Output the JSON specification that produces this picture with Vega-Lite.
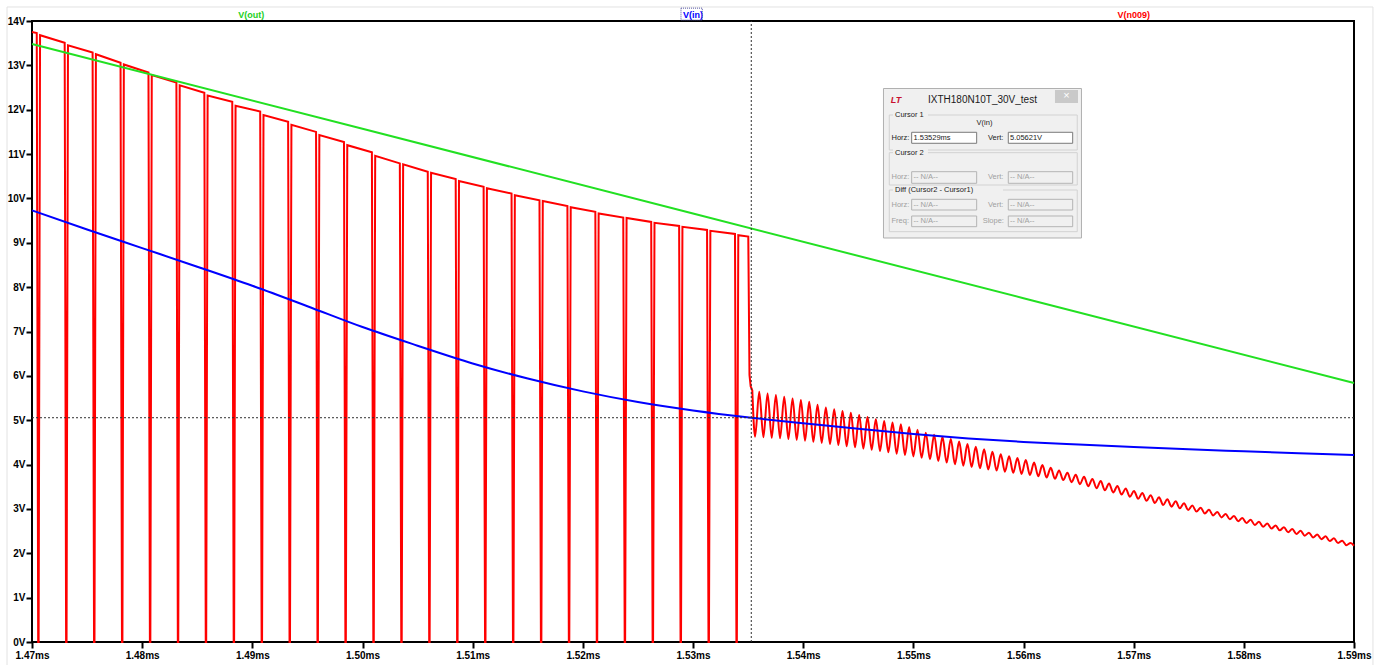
{
"$schema": "https://vega.github.io/schema/vega-lite/v6.json",
"width": 1322, "height": 621,
"autosize": {"type": "none"},
"padding": {"left": 32, "top": 21, "right": 33, "bottom": 23},
"background": "#ffffff",
"config": {"view": {"stroke": "#000000", "strokeWidth": 2}, "font": "Liberation Sans"},
"datasets": {
"borders": [
{"t": 1.467731, "v": 14.316, "t2": 1.467731, "v2": -0.52},
{"t": 1.467731, "v": 14.316, "t2": 1.591721, "v2": 14.316},
{"t": 1.591721, "v": 14.316, "t2": 1.591721, "v2": -0.52}
],
"red_sw": [
{"t": 1.47, "v": 13.75},
{"t": 1.470431, "v": 13.73}, {"t": 1.470561, "v": 0}, {"t": 1.470601, "v": 0}, {"t": 1.470731, "v": 13.68},
{"t": 1.472966, "v": 13.51}, {"t": 1.473096, "v": 0}, {"t": 1.473136, "v": 0}, {"t": 1.473266, "v": 13.45},
{"t": 1.475501, "v": 13.29}, {"t": 1.475631, "v": 0}, {"t": 1.475671, "v": 0}, {"t": 1.475801, "v": 13.25},
{"t": 1.478037, "v": 13.06}, {"t": 1.478167, "v": 0}, {"t": 1.478207, "v": 0}, {"t": 1.478337, "v": 13.02},
{"t": 1.480572, "v": 12.84}, {"t": 1.480702, "v": 0}, {"t": 1.480742, "v": 0}, {"t": 1.480872, "v": 12.78},
{"t": 1.483107, "v": 12.61}, {"t": 1.483237, "v": 0}, {"t": 1.483277, "v": 0}, {"t": 1.483407, "v": 12.55},
{"t": 1.485642, "v": 12.38}, {"t": 1.485772, "v": 0}, {"t": 1.485812, "v": 0}, {"t": 1.485942, "v": 12.32},
{"t": 1.488177, "v": 12.18}, {"t": 1.488307, "v": 0}, {"t": 1.488347, "v": 0}, {"t": 1.488477, "v": 12.09},
{"t": 1.490713, "v": 11.96}, {"t": 1.490843, "v": 0}, {"t": 1.490883, "v": 0}, {"t": 1.491013, "v": 11.88},
{"t": 1.493248, "v": 11.73}, {"t": 1.493378, "v": 0}, {"t": 1.493418, "v": 0}, {"t": 1.493548, "v": 11.66},
{"t": 1.495783, "v": 11.50}, {"t": 1.495913, "v": 0}, {"t": 1.495953, "v": 0}, {"t": 1.496083, "v": 11.43},
{"t": 1.498318, "v": 11.27}, {"t": 1.498448, "v": 0}, {"t": 1.498488, "v": 0}, {"t": 1.498618, "v": 11.20},
{"t": 1.500853, "v": 11.04}, {"t": 1.500983, "v": 0}, {"t": 1.501023, "v": 0}, {"t": 1.501153, "v": 10.96},
{"t": 1.503389, "v": 10.79}, {"t": 1.503519, "v": 0}, {"t": 1.503559, "v": 0}, {"t": 1.503689, "v": 10.77},
{"t": 1.505924, "v": 10.60}, {"t": 1.506054, "v": 0}, {"t": 1.506094, "v": 0}, {"t": 1.506224, "v": 10.58},
{"t": 1.508459, "v": 10.44}, {"t": 1.508589, "v": 0}, {"t": 1.508629, "v": 0}, {"t": 1.508759, "v": 10.39},
{"t": 1.510994, "v": 10.26}, {"t": 1.511124, "v": 0}, {"t": 1.511164, "v": 0}, {"t": 1.511294, "v": 10.23},
{"t": 1.513529, "v": 10.11}, {"t": 1.513659, "v": 0}, {"t": 1.513699, "v": 0}, {"t": 1.513829, "v": 10.07},
{"t": 1.516065, "v": 9.96}, {"t": 1.516195, "v": 0}, {"t": 1.516235, "v": 0}, {"t": 1.516365, "v": 9.94},
{"t": 1.518600, "v": 9.83}, {"t": 1.518730, "v": 0}, {"t": 1.518770, "v": 0}, {"t": 1.518900, "v": 9.80},
{"t": 1.521135, "v": 9.70}, {"t": 1.521265, "v": 0}, {"t": 1.521305, "v": 0}, {"t": 1.521435, "v": 9.66},
{"t": 1.523670, "v": 9.57}, {"t": 1.523800, "v": 0}, {"t": 1.523840, "v": 0}, {"t": 1.523970, "v": 9.56},
{"t": 1.526205, "v": 9.47}, {"t": 1.526335, "v": 0}, {"t": 1.526375, "v": 0}, {"t": 1.526505, "v": 9.45},
{"t": 1.528741, "v": 9.38}, {"t": 1.528871, "v": 0}, {"t": 1.528911, "v": 0}, {"t": 1.529041, "v": 9.36},
{"t": 1.531276, "v": 9.29}, {"t": 1.531406, "v": 0}, {"t": 1.531446, "v": 0}, {"t": 1.531576, "v": 9.27},
{"t": 1.533811, "v": 9.20}, {"t": 1.533941, "v": 0}, {"t": 1.533981, "v": 0}, {"t": 1.534111, "v": 9.17},
{"t": 1.535018, "v": 9.14}, {"t": 1.535127, "v": 6.02}, {"t": 1.535236, "v": 5.76}, {"t": 1.535381, "v": 5.68}
],
"red_osc": [
{"t": 1.535381, "v": 5.68},
{"t": 1.535635, "v": 4.628}, {"t": 1.536013, "v": 5.642},
{"t": 1.536391, "v": 4.616}, {"t": 1.536769, "v": 5.604},
{"t": 1.537147, "v": 4.604}, {"t": 1.537525, "v": 5.567},
{"t": 1.537903, "v": 4.592}, {"t": 1.538281, "v": 5.529},
{"t": 1.538659, "v": 4.574}, {"t": 1.539037, "v": 5.492},
{"t": 1.539415, "v": 4.556}, {"t": 1.539793, "v": 5.454},
{"t": 1.540171, "v": 4.538}, {"t": 1.540549, "v": 5.415},
{"t": 1.540927, "v": 4.513}, {"t": 1.541305, "v": 5.350},
{"t": 1.541683, "v": 4.489}, {"t": 1.542061, "v": 5.284},
{"t": 1.542439, "v": 4.464}, {"t": 1.542817, "v": 5.246},
{"t": 1.543195, "v": 4.439}, {"t": 1.543573, "v": 5.208},
{"t": 1.543951, "v": 4.414}, {"t": 1.544329, "v": 5.170},
{"t": 1.544707, "v": 4.389}, {"t": 1.545085, "v": 5.120},
{"t": 1.545463, "v": 4.361}, {"t": 1.545841, "v": 5.071},
{"t": 1.546219, "v": 4.334}, {"t": 1.546597, "v": 5.022},
{"t": 1.546975, "v": 4.306}, {"t": 1.547353, "v": 4.984},
{"t": 1.547731, "v": 4.276}, {"t": 1.548109, "v": 4.946},
{"t": 1.548487, "v": 4.246}, {"t": 1.548865, "v": 4.909},
{"t": 1.549243, "v": 4.216}, {"t": 1.549621, "v": 4.846},
{"t": 1.549999, "v": 4.184}, {"t": 1.550377, "v": 4.783},
{"t": 1.550755, "v": 4.151}, {"t": 1.551133, "v": 4.720},
{"t": 1.551511, "v": 4.119}, {"t": 1.551889, "v": 4.673},
{"t": 1.552267, "v": 4.081}, {"t": 1.552645, "v": 4.626},
{"t": 1.553023, "v": 4.044}, {"t": 1.553401, "v": 4.578},
{"t": 1.553779, "v": 4.006}, {"t": 1.554157, "v": 4.520},
{"t": 1.554535, "v": 3.976}, {"t": 1.554913, "v": 4.462},
{"t": 1.555291, "v": 3.946}, {"t": 1.555669, "v": 4.404},
{"t": 1.556047, "v": 3.916}, {"t": 1.556425, "v": 4.346},
{"t": 1.556803, "v": 3.890}, {"t": 1.557181, "v": 4.290},
{"t": 1.557559, "v": 3.865}, {"t": 1.557937, "v": 4.233},
{"t": 1.558315, "v": 3.839}, {"t": 1.558693, "v": 4.190},
{"t": 1.559071, "v": 3.814}, {"t": 1.559449, "v": 4.147},
{"t": 1.559827, "v": 3.790}, {"t": 1.560205, "v": 4.104},
{"t": 1.560583, "v": 3.765}, {"t": 1.560961, "v": 4.047},
{"t": 1.561339, "v": 3.737}, {"t": 1.561717, "v": 3.988},
{"t": 1.562095, "v": 3.708}, {"t": 1.562473, "v": 3.928},
{"t": 1.562851, "v": 3.680}, {"t": 1.563229, "v": 3.868},
{"t": 1.563607, "v": 3.650}, {"t": 1.563985, "v": 3.815},
{"t": 1.564363, "v": 3.604}, {"t": 1.564741, "v": 3.769},
{"t": 1.565119, "v": 3.559}, {"t": 1.565497, "v": 3.723},
{"t": 1.565875, "v": 3.513}, {"t": 1.566253, "v": 3.677},
{"t": 1.566631, "v": 3.467}, {"t": 1.567009, "v": 3.630},
{"t": 1.567387, "v": 3.419}, {"t": 1.567765, "v": 3.573},
{"t": 1.568143, "v": 3.372}, {"t": 1.568521, "v": 3.516},
{"t": 1.568899, "v": 3.324}, {"t": 1.569277, "v": 3.459},
{"t": 1.569655, "v": 3.276}, {"t": 1.570033, "v": 3.404},
{"t": 1.570411, "v": 3.229}, {"t": 1.570789, "v": 3.357},
{"t": 1.571167, "v": 3.182}, {"t": 1.571545, "v": 3.310},
{"t": 1.571923, "v": 3.135}, {"t": 1.572301, "v": 3.263},
{"t": 1.572679, "v": 3.088}, {"t": 1.573057, "v": 3.219},
{"t": 1.573435, "v": 3.051}, {"t": 1.573813, "v": 3.172},
{"t": 1.574191, "v": 3.013}, {"t": 1.574569, "v": 3.126},
{"t": 1.574947, "v": 2.976}, {"t": 1.575325, "v": 3.075},
{"t": 1.575703, "v": 2.940}, {"t": 1.576081, "v": 3.027},
{"t": 1.576459, "v": 2.896}, {"t": 1.576837, "v": 2.981},
{"t": 1.577215, "v": 2.853}, {"t": 1.577593, "v": 2.933},
{"t": 1.577971, "v": 2.809}, {"t": 1.578349, "v": 2.886},
{"t": 1.578727, "v": 2.766}, {"t": 1.579105, "v": 2.842},
{"t": 1.579483, "v": 2.724}, {"t": 1.579861, "v": 2.798},
{"t": 1.580239, "v": 2.682}, {"t": 1.580617, "v": 2.754},
{"t": 1.580995, "v": 2.640}, {"t": 1.581373, "v": 2.711},
{"t": 1.581751, "v": 2.598}, {"t": 1.582129, "v": 2.669},
{"t": 1.582507, "v": 2.558}, {"t": 1.582885, "v": 2.628},
{"t": 1.583263, "v": 2.517}, {"t": 1.583641, "v": 2.588},
{"t": 1.584019, "v": 2.477}, {"t": 1.584397, "v": 2.548},
{"t": 1.584775, "v": 2.437}, {"t": 1.585153, "v": 2.507},
{"t": 1.585531, "v": 2.397}, {"t": 1.585909, "v": 2.465},
{"t": 1.586287, "v": 2.357}, {"t": 1.586665, "v": 2.424},
{"t": 1.587043, "v": 2.317}, {"t": 1.587421, "v": 2.382},
{"t": 1.587799, "v": 2.277}, {"t": 1.588177, "v": 2.337},
{"t": 1.588555, "v": 2.230}, {"t": 1.588933, "v": 2.285},
{"t": 1.589311, "v": 2.183}, {"t": 1.589689, "v": 2.232},
{"t": 1.59, "v": 2.17}
],
"vout": [
{"t": 1.47, "v": 13.48}, {"t": 1.50, "v": 11.57}, {"t": 1.53, "v": 9.66}, {"t": 1.56, "v": 7.75}, {"t": 1.59, "v": 5.84}
],
"vin": [
{"t": 1.47, "v": 9.73}, {"t": 1.475, "v": 9.30}, {"t": 1.48, "v": 8.88}, {"t": 1.485, "v": 8.46},
{"t": 1.49, "v": 8.03}, {"t": 1.495, "v": 7.57}, {"t": 1.50, "v": 7.10}, {"t": 1.505, "v": 6.68},
{"t": 1.51, "v": 6.28}, {"t": 1.515, "v": 5.94}, {"t": 1.52, "v": 5.65}, {"t": 1.525, "v": 5.41},
{"t": 1.53, "v": 5.22}, {"t": 1.53529, "v": 5.056}, {"t": 1.54, "v": 4.93}, {"t": 1.545, "v": 4.805},
{"t": 1.55, "v": 4.69}, {"t": 1.555, "v": 4.59}, {"t": 1.56, "v": 4.51}, {"t": 1.565, "v": 4.45},
{"t": 1.57, "v": 4.395}, {"t": 1.575, "v": 4.345}, {"t": 1.58, "v": 4.30}, {"t": 1.585, "v": 4.255},
{"t": 1.59, "v": 4.215}
],
"cursor": [
{"t": 1.53529, "v": 0, "t2": 1.53529, "v2": 14},
{"t": 1.47, "v": 5.05621, "t2": 1.59, "v2": 5.05621}
],
"legend": [
{"t": 1.4899, "v": 14.135, "name": "V(out)"},
{"t": 1.5300, "v": 14.135, "name": "V(in)"},
{"t": 1.5700, "v": 14.135, "name": "V(n009)"}
],
"legendbox": [{"t": 1.528909, "t2": 1.530843, "v": 14.02, "v2": 14.29}],
"dlg_outer": [{"t": 1.54729, "t2": 1.565262, "v": 12.478, "v2": 9.108}],
"dlg_close": [{"t": 1.562858, "t2": 1.564946, "v": 12.444, "v2": 12.152}],
"dlg_frames": [
{"t": 1.547817, "t2": 1.56488, "v": 11.881, "v2": 11.092},
{"t": 1.547817, "t2": 1.56488, "v": 11.031, "v2": 10.303},
{"t": 1.547817, "t2": 1.56488, "v": 10.19, "v2": 9.25}
],
"dlg_labelbg": [
{"t": 1.548153, "t2": 1.551329, "v": 11.971, "v2": 11.791},
{"t": 1.548153, "t2": 1.551329, "v": 11.121, "v2": 10.941},
{"t": 1.548153, "t2": 1.558138, "v": 10.28, "v2": 10.1}
],
"dlg_white": [
{"t": 1.549849, "t2": 1.555749, "v": 11.491, "v2": 11.243},
{"t": 1.558619, "t2": 1.564464, "v": 11.491, "v2": 11.243}
],
"dlg_gray": [
{"t": 1.549849, "t2": 1.555749, "v": 10.603, "v2": 10.341},
{"t": 1.558619, "t2": 1.564464, "v": 10.603, "v2": 10.341},
{"t": 1.549849, "t2": 1.555749, "v": 9.98, "v2": 9.739},
{"t": 1.558619, "t2": 1.564464, "v": 9.98, "v2": 9.739},
{"t": 1.549849, "t2": 1.555749, "v": 9.604, "v2": 9.363},
{"t": 1.558619, "t2": 1.564464, "v": 9.604, "v2": 9.363}
],
"dlg_text": [
{"t": 1.548333, "v": 11.881, "label": "Cursor 1"},
{"t": 1.548333, "v": 11.031, "label": "Cursor 2"},
{"t": 1.548333, "v": 10.19, "label": "Diff (Cursor2 - Cursor1)"},
{"t": 1.555744, "v": 11.7, "label": "V(in)"},
{"t": 1.548016, "v": 11.362, "label": "Horz:"},
{"t": 1.550013, "v": 11.362, "label": "1.53529ms"},
{"t": 1.556776, "v": 11.362, "label": "Vert:"},
{"t": 1.558773, "v": 11.362, "label": "5.05621V"}
],
"dlg_graytext": [
{"t": 1.548016, "v": 10.472, "label": "Horz:"},
{"t": 1.550013, "v": 10.472, "label": "-- N/A--"},
{"t": 1.556776, "v": 10.472, "label": "Vert:"},
{"t": 1.558773, "v": 10.472, "label": "-- N/A--"},
{"t": 1.548016, "v": 9.86, "label": "Horz:"},
{"t": 1.550013, "v": 9.86, "label": "-- N/A--"},
{"t": 1.556776, "v": 9.86, "label": "Vert:"},
{"t": 1.558773, "v": 9.86, "label": "-- N/A--"},
{"t": 1.548016, "v": 9.484, "label": "Freq:"},
{"t": 1.550013, "v": 9.484, "label": "-- N/A--"},
{"t": 1.556295, "v": 9.484, "label": "Slope:"},
{"t": 1.558773, "v": 9.484, "label": "-- N/A--"}
],
"dlg_title": [{"t": 1.556276, "v": 12.219, "label": "IXTH180N10T_30V_test"}],
"dlg_logo": [{"t": 1.548424, "v": 12.219, "label": "LT"}],
"dlg_x": [{"t": 1.563902, "v": 12.298, "label": "×"}]
},
"encoding": {
"x": {"field": "t", "type": "quantitative",
 "scale": {"domain": [1.47, 1.59], "nice": false, "zero": false},
 "axis": {"values": [1.47, 1.48, 1.49, 1.5, 1.51, 1.52, 1.53, 1.54, 1.55, 1.56, 1.57, 1.58, 1.59],
  "labelExpr": "format(datum.value, '.2f') + 'ms'", "title": null, "grid": false, "domain": false,
  "tickSize": 6, "tickWidth": 2, "tickColor": "#000000", "labelFont": "Liberation Sans", "labelFontSize": 10,
  "labelFontWeight": "bold", "labelColor": "#000000", "labelPadding": 2, "labelFlush": false, "labelOverlap": false, "labelBound": false}},
"y": {"field": "v", "type": "quantitative",
 "scale": {"domain": [0, 14], "nice": false, "zero": false},
 "axis": {"values": [0, 1, 2, 3, 4, 5, 6, 7, 8, 9, 10, 11, 12, 13, 14],
  "labelExpr": "datum.value + 'V'", "title": null, "grid": false, "domain": false,
  "tickSize": 6, "tickWidth": 2, "tickColor": "#000000", "labelFont": "Liberation Sans", "labelFontSize": 10,
  "labelFontWeight": "bold", "labelColor": "#000000", "labelPadding": 1, "labelOverlap": false, "labelBound": false}}
},
"layer": [
{"data": {"name": "borders"}, "mark": {"type": "rule", "color": "#e2e2e2", "strokeWidth": 1},
 "encoding": {"x2": {"field": "t2"}, "y2": {"field": "v2"}}},
{"data": {"name": "red_sw"}, "mark": {"type": "line", "color": "#ff0000", "strokeWidth": 2, "interpolate": "linear"}, "encoding": {"order": {"field": "t", "type": "quantitative"}}},
{"data": {"name": "red_osc"}, "mark": {"type": "line", "color": "#ff0000", "strokeWidth": 2, "interpolate": "monotone"}, "encoding": {"order": {"field": "t", "type": "quantitative"}}},
{"data": {"name": "vout"}, "mark": {"type": "line", "color": "#22e022", "strokeWidth": 2}, "encoding": {}},
{"data": {"name": "vin"}, "mark": {"type": "line", "color": "#0000ff", "strokeWidth": 2, "interpolate": "monotone"}, "encoding": {}},
{"data": {"name": "cursor"}, "mark": {"type": "rule", "color": "#303030", "strokeWidth": 1, "strokeDash": [2, 2]},
 "encoding": {"x2": {"field": "t2"}, "y2": {"field": "v2"}}},
{"data": {"name": "legend"}, "mark": {"type": "text", "font": "Liberation Sans", "fontSize": 9, "fontWeight": "bold", "baseline": "middle", "align": "center"},
 "encoding": {"text": {"field": "name"}, "color": {"field": "name", "type": "nominal", "legend": null,
  "scale": {"domain": ["V(out)", "V(in)", "V(n009)"], "range": ["#22d022", "#0000ff", "#ff0000"]}}}},
{"data": {"name": "legendbox"}, "mark": {"type": "rect", "fillOpacity": 0, "stroke": "#5050a0", "strokeWidth": 1, "strokeDash": [1, 1]},
 "encoding": {"x2": {"field": "t2"}, "y2": {"field": "v2"}}},
{"data": {"name": "dlg_outer"}, "mark": {"type": "rect", "fill": "#f0f0f0", "stroke": "#b0b0b0", "strokeWidth": 1},
 "encoding": {"x2": {"field": "t2"}, "y2": {"field": "v2"}}},
{"data": {"name": "dlg_close"}, "mark": {"type": "rect", "fill": "#c9c9c9"},
 "encoding": {"x2": {"field": "t2"}, "y2": {"field": "v2"}}},
{"data": {"name": "dlg_frames"}, "mark": {"type": "rect", "fillOpacity": 0, "stroke": "#d2d2d2", "strokeWidth": 1},
 "encoding": {"x2": {"field": "t2"}, "y2": {"field": "v2"}}},
{"data": {"name": "dlg_labelbg"}, "mark": {"type": "rect", "fill": "#f0f0f0"},
 "encoding": {"x2": {"field": "t2"}, "y2": {"field": "v2"}}},
{"data": {"name": "dlg_white"}, "mark": {"type": "rect", "fill": "#ffffff", "stroke": "#7a7a7a", "strokeWidth": 1},
 "encoding": {"x2": {"field": "t2"}, "y2": {"field": "v2"}}},
{"data": {"name": "dlg_gray"}, "mark": {"type": "rect", "fill": "#f0f0f0", "stroke": "#b4b4b4", "strokeWidth": 1},
 "encoding": {"x2": {"field": "t2"}, "y2": {"field": "v2"}}},
{"data": {"name": "dlg_text"}, "mark": {"type": "text", "font": "Liberation Sans", "fontSize": 7.5, "color": "#222222", "align": "left", "baseline": "middle"},
 "encoding": {"text": {"field": "label"}}},
{"data": {"name": "dlg_graytext"}, "mark": {"type": "text", "font": "Liberation Sans", "fontSize": 7.5, "color": "#a0a0a0", "align": "left", "baseline": "middle"},
 "encoding": {"text": {"field": "label"}}},
{"data": {"name": "dlg_title"}, "mark": {"type": "text", "font": "Liberation Sans", "fontSize": 10, "color": "#1a1a1a", "align": "center", "baseline": "middle"},
 "encoding": {"text": {"field": "label"}}},
{"data": {"name": "dlg_logo"}, "mark": {"type": "text", "font": "Liberation Sans", "fontSize": 9, "fontWeight": "bold", "fontStyle": "italic", "color": "#c8102e", "align": "center", "baseline": "middle"},
 "encoding": {"text": {"field": "label"}}},
{"data": {"name": "dlg_x"}, "mark": {"type": "text", "font": "Liberation Sans", "fontSize": 11, "color": "#ffffff", "align": "center", "baseline": "middle"},
 "encoding": {"text": {"field": "label"}}}
]
}
